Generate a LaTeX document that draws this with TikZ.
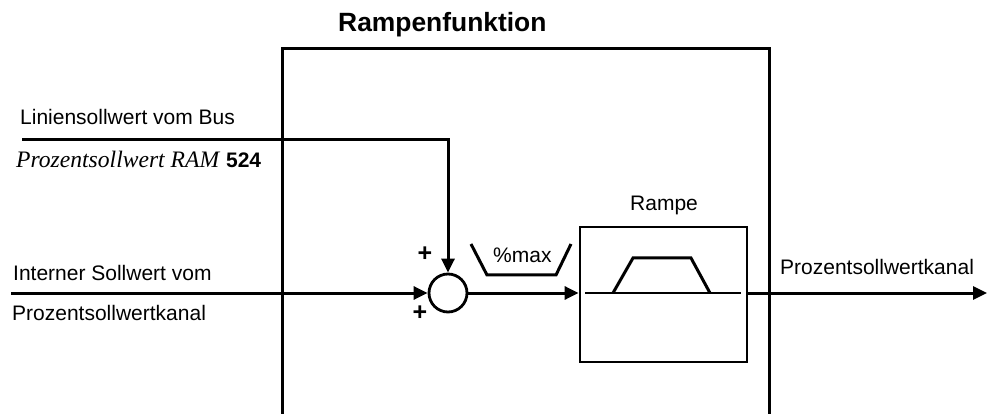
\documentclass[tikz,border=0pt]{standalone}
\usepackage{fontspec}
\setmainfont{Liberation Sans}
\newfontfamily\timesfont{Liberation Serif}
\usetikzlibrary{arrows.meta}
\begin{document}
\begin{tikzpicture}[x=1pt,y=-1pt,
  thickline/.style={line width=3pt},
  thinline/.style={line width=1.4pt},
  arr/.style={line width=3pt,-{Triangle[length=14pt,width=13pt]}},
  lbl/.style={font=\fontsize{21}{25}\selectfont,inner sep=0pt,anchor=base west},
  plus/.style={font=\fontsize{25}{30}\selectfont\bfseries,inner sep=0pt}]
\useasboundingbox (0,0) rectangle (991,414);
% title
\node[lbl,font=\fontsize{26.4}{30}\selectfont\bfseries] (title) at (338,32) {Rampenfunktion};
% frame (open at the bottom)
\draw[thickline] (282,414) -- (282,49) -- (769,49) -- (769,414);
% labels
\node[lbl] (t1) at (20,125) {Liniensollwert vom Bus};
\node[lbl] (t2) at (16,168) {{\fontsize{23.6}{28}\selectfont\timesfont\itshape Prozentsollwert RAM} \textbf{524}};
\node[lbl] (t3) at (13,280) {Interner Sollwert vom};
\node[lbl] (t4) at (12,320) {Prozentsollwertkanal};
% summing junction
\node[draw,circle,line width=2.8pt,minimum size=38pt,inner sep=0pt] (sum) at (448,293) {};
\node[plus] (p1) at (425,254) {+};
\node[plus] (p2) at (420,313) {+};
% ramp box
\node[draw,line width=2.8pt,minimum width=167pt,minimum height=135pt,inner sep=0pt] (ramp) at (663.5,294.5) {};
\node[lbl] (rl) at (630,211) {Rampe};
\draw[thinline] (585,293) -- (741,293);
\draw[thickline,line join=miter] (613,293) -- (633,258) -- (691,258) -- (710,293);
% %max limiter
\draw[thickline,line join=miter] (471,244) -- (487,275) -- (556,275) -- (571,244);
\node[lbl] (mx) at (493,262) {\%max};
% inputs
\coordinate (in1) at (11,293);
\coordinate (in2) at (22,140);
\coordinate (bend) at (448,140);
\draw[arr] (in1) -- (sum.west);
\draw[arr] (in2) -- (bend) -- (sum.north);
\draw[arr] (sum.east) -- (ramp.west |- sum.east);
% output
\coordinate (out) at (987,293);
\draw[arr] (ramp.east |- out) -- (out);
\node[lbl] (ol) at (780,275) {Prozentsollwertkanal};
\end{tikzpicture}
\end{document}
